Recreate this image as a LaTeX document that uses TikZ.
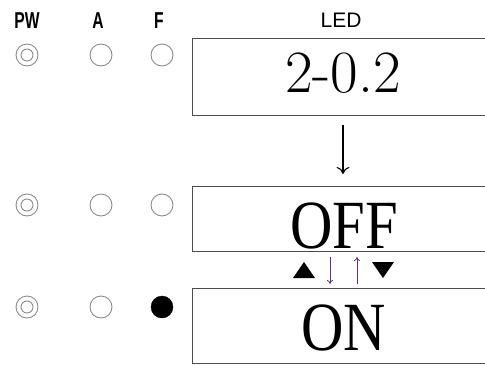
\documentclass[tikz,border=0pt]{standalone}
\usepackage{fontspec}
\newfontfamily\lsans{Liberation Sans}
\newfontfamily\tms{Liberation Serif}
\usetikzlibrary{arrows.meta}
\definecolor{boxgray}{gray}{0.3}
\definecolor{ledgray}{gray}{0.55}
\definecolor{arrpurple}{RGB}{95,45,150}
\begin{document}
\begin{tikzpicture}[x=1pt,y=-1pt,
  ledbox/.style={draw=boxgray,line width=1.3pt,minimum width=310pt,anchor=north west,inner sep=0pt},
  lamp/.style={circle,draw=ledgray,line width=0.9pt,inner sep=0pt,minimum size=22pt},
  lampin/.style={circle,draw=ledgray,line width=0.9pt,inner sep=0pt,minimum size=12pt},
  lampon/.style={circle,fill=black,draw=black,inner sep=0pt,minimum size=22pt},
  head/.style={font=\lsans\bfseries\fontsize{23}{23}\selectfont,anchor=base,inner sep=0pt,xscale=0.68},
  bigtxt/.style={anchor=base,inner sep=0pt},
  offon/.style={anchor=base,inner sep=0pt,font=\tms\fontsize{69}{69}\selectfont,xscale=0.85},
  smallarr/.style={draw=arrpurple,line width=0.8pt,-{To[length=4pt,width=6pt]}}
]
\useasboundingbox (0,0) rectangle (485,365);
% headers
\node[head] (hpw) at (27,28) {PW};
\node[head] (ha) at (98,28) {A};
\node[head] (hf) at (159,28) {F};
\node[font=\lsans\fontsize{21}{21}\selectfont,anchor=base,inner sep=0pt] (hled) at (341,27) {LED};
% boxes
\node[ledbox,minimum height=77pt] (b1) at (192,38) {};
\node[ledbox,minimum height=65pt] (b2) at (192,186) {};
\node[ledbox,minimum height=75pt] (b3) at (192,288) {};
% box texts
\node[bigtxt,font=\fontsize{60}{60}\selectfont] (t1) at (343,92) {2-0.2};
\node[offon] (t2) at (344,248) {OFF};
\node[offon] (t3) at (344,350) {ON};
% lamps row 1
\node[lamp] (pw1) at (27,55) {};
\node[lampin] (pw1i) at (27,55) {};
\node[lamp] (a1) at (101,55) {};
\node[lamp] (f1) at (162,55) {};
% lamps row 2
\node[lamp] (pw2) at (27,205) {};
\node[lampin] (pw2i) at (27,205) {};
\node[lamp] (a2) at (101,205) {};
\node[lamp] (f2) at (162,205) {};
% lamps row 3
\node[lamp] (pw3) at (27,307) {};
\node[lampin] (pw3i) at (27,307) {};
\node[lamp] (a3) at (101,307) {};
\node[lampon] (f3) at (162,307) {};
% big arrow
\coordinate (ba1) at (343,125);
\coordinate (ba2) at (343,174);
\draw[line width=1.1pt,-{To[length=7pt,width=13pt]}] (ba1) -- (ba2);
% small arrows and triangles
\coordinate (d1) at (330,257);
\coordinate (d2) at (330,284);
\coordinate (u1) at (357,284);
\coordinate (u2) at (357,257);
\draw[smallarr] (d1) -- (d2);
\draw[smallarr] (u1) -- (u2);
\fill (293,278) -- (315,278) -- (304,262) -- cycle;
\fill (372,262) -- (394,262) -- (383,278) -- cycle;
\end{tikzpicture}
\end{document}
